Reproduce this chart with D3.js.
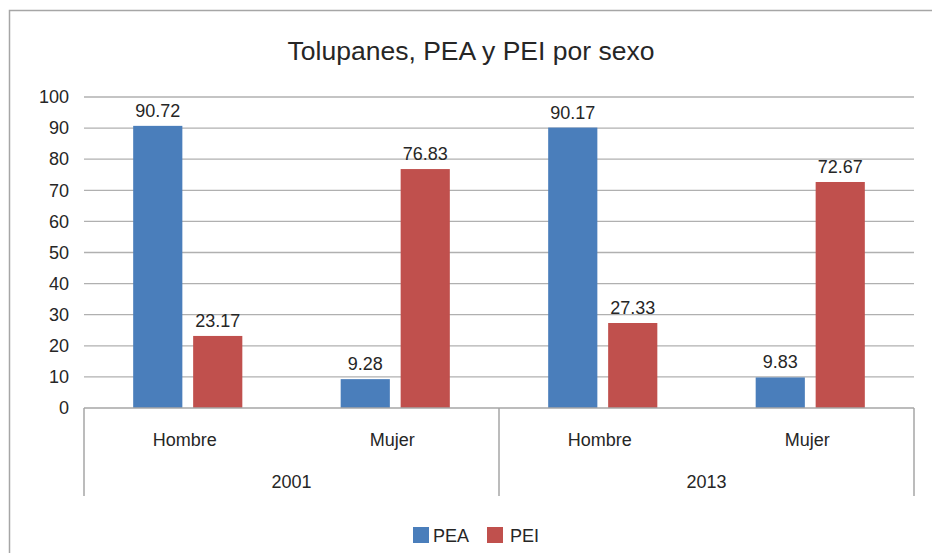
<!DOCTYPE html>
<html>
<head>
<meta charset="utf-8">
<script src="https://cdn.jsdelivr.net/npm/d3@7"></script>
<style>
  body { margin: 0; background: #fff; }
  text { font-family: "Liberation Sans", Arial, sans-serif; fill: #262626; }
</style>
</head>
<body>
<div id="chart"></div>
<script>
// Daten
const years = ['2001', '2013'];
const sexes = ['Hombre', 'Mujer'];
const series = ['PEA', 'PEI'];
const peaValues = [90.72, 9.28, 90.17, 9.83];
const peiValues = [23.17, 76.83, 27.33, 72.67];
const yTicks = [0, 10, 20, 30, 40, 50, 60, 70, 80, 90, 100];
const colors = { PEA: '#4a7ebb', PEI: '#c0504d' };

const width = 932, height = 553;
const plot = { left: 84, right: 914, top: 97, bottom: 408 };

// Kategorien (Jahr + Geschlecht)
const cats = [];
years.forEach(y => sexes.forEach(s => cats.push({ key: y + '-' + s, year: y, sex: s })));
const rows = cats.map((c, i) => ({ ...c, PEA: peaValues[i], PEI: peiValues[i] }));

const svg = d3.select('#chart').append('svg')
  .attr('width', width)
  .attr('height', height);

// Rahmen
svg.append('rect')
  .attr('x', 9.5).attr('y', 10.5)
  .attr('width', 940).attr('height', 560)
  .attr('fill', 'none')
  .attr('stroke', '#a6a6a6')
  .attr('stroke-width', 1.5);

// Titel
svg.append('text')
  .attr('x', 471).attr('y', 60)
  .attr('text-anchor', 'middle')
  .style('font-size', '26.5px')
  .text('Tolupanes, PEA y PEI por sexo');

const y = d3.scaleLinear().domain([0, 100]).range([plot.bottom, plot.top]);
const x0 = d3.scaleBand().domain(cats.map(c => c.key)).range([plot.left, plot.right]);
const x1 = d3.scaleBand().domain(series).range([0, x0.bandwidth()])
  .paddingInner(0.18).paddingOuter(0.82);

// Gitterlinien
svg.append('g').selectAll('line')
  .data(yTicks.filter(t => t > 0))
  .enter().append('line')
  .attr('x1', plot.left).attr('x2', plot.right)
  .attr('y1', d => y(d)).attr('y2', d => y(d))
  .attr('stroke', '#b0b0b0')
  .attr('stroke-width', 1.3);

// Y-Achse Beschriftung
const yAxis = svg.append('g')
  .attr('transform', `translate(${plot.left - 15},0)`)
  .call(d3.axisLeft(y).tickValues(yTicks).tickSize(0).tickPadding(0));
yAxis.select('.domain').remove();
yAxis.selectAll('text').style('font-size', '18px').attr('fill', '#262626');

// Balken
const groups = svg.append('g').selectAll('g')
  .data(rows)
  .enter().append('g')
  .attr('transform', d => `translate(${x0(d.key)},0)`);

groups.selectAll('rect')
  .data(d => series.map(s => ({ s, v: d[s] })))
  .enter().append('rect')
  .attr('x', d => x1(d.s))
  .attr('width', x1.bandwidth())
  .attr('y', d => y(d.v))
  .attr('height', d => y(0) - y(d.v))
  .attr('fill', d => colors[d.s]);

groups.selectAll('.val')
  .data(d => series.map(s => ({ s, v: d[s] })))
  .enter().append('text')
  .attr('class', 'val')
  .attr('x', d => x1(d.s) + x1.bandwidth() / 2)
  .attr('y', d => y(d.v) - 9)
  .attr('text-anchor', 'middle')
  .style('font-size', '18px')
  .text(d => d.v.toFixed(2));

// X-Achse (Linie + Trennlinien)
const axisG = svg.append('g');
axisG.append('line')
  .attr('x1', plot.left).attr('x2', plot.right)
  .attr('y1', plot.bottom).attr('y2', plot.bottom)
  .attr('stroke', '#a6a6a6').attr('stroke-width', 1.5);

const yearScale = d3.scaleBand().domain(years).range([plot.left, plot.right]);
const seps = [plot.left, ...years.map(yr => yearScale(yr) + yearScale.bandwidth())];
axisG.selectAll('.sep')
  .data(seps)
  .enter().append('line')
  .attr('class', 'sep')
  .attr('x1', d => d).attr('x2', d => d)
  .attr('y1', plot.bottom).attr('y2', 496)
  .attr('stroke', '#a6a6a6').attr('stroke-width', 1.5);

axisG.selectAll('.sex')
  .data(cats)
  .enter().append('text')
  .attr('x', d => x0(d.key) + x0.bandwidth() / 2 - 3)
  .attr('y', 446)
  .attr('text-anchor', 'middle')
  .style('font-size', '18px')
  .text(d => d.sex);

axisG.selectAll('.year')
  .data(years)
  .enter().append('text')
  .attr('x', d => yearScale(d) + yearScale.bandwidth() / 2)
  .attr('y', 488)
  .attr('text-anchor', 'middle')
  .style('font-size', '18px')
  .text(d => d);

// Legende
const legend = svg.append('g').attr('transform', 'translate(413,527)');
const legendX = [0, 74];
const item = legend.selectAll('g')
  .data(series)
  .enter().append('g')
  .attr('transform', (d, i) => `translate(${legendX[i]},0)`);
item.append('rect')
  .attr('width', 16).attr('height', 16)
  .attr('fill', d => colors[d]);
item.append('text')
  .attr('x', d => d === 'PEA' ? 20 : 23)
  .attr('y', 15)
  .style('font-size', '18px')
  .text(d => d);
</script>
</body>
</html>
